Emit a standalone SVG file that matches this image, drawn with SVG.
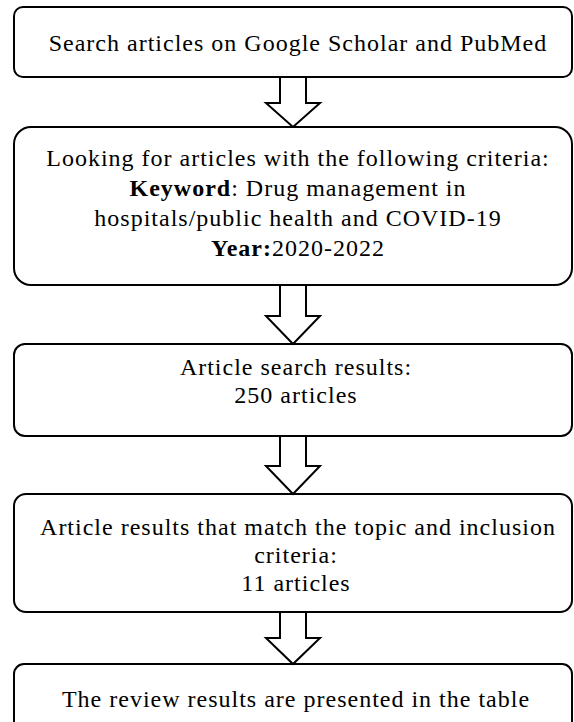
<svg xmlns="http://www.w3.org/2000/svg" width="574" height="722" viewBox="0 0 574 722">
  <style>
    .box { fill: #ffffff; stroke: #000000; stroke-width: 2; }
    .arrow { fill: #ffffff; stroke: #000000; stroke-width: 2; stroke-linejoin: miter; }
    .t { font-family: "Liberation Serif", "Times New Roman", serif; font-size: 24px; fill: #000000; text-anchor: middle; letter-spacing: 1px; }
    .b { font-weight: bold; }
  </style>
  <rect width="574" height="722" fill="#ffffff"/>

  <g id="node-search">
    <rect class="box" x="14" y="7" width="558" height="70" rx="9" ry="9"/>
    <text class="t" x="298" y="51">Search articles on Google Scholar and PubMed</text>
  </g>

  <g id="node-criteria">
    <rect class="box" x="14" y="127" width="558" height="158" rx="17" ry="17"/>
    <text class="t" x="298" y="166">Looking for articles with the following criteria:</text>
    <text class="t" x="298" y="196"><tspan class="b">Keyword</tspan>: Drug management in</text>
    <text class="t" x="298" y="226">hospitals/public health and COVID-19</text>
    <text class="t" x="298" y="256"><tspan class="b">Year:</tspan>2020-2022</text>
  </g>

  <g id="node-results">
    <rect class="box" x="14" y="344" width="558" height="92" rx="11" ry="11"/>
    <text class="t" x="296" y="375">Article search results:</text>
    <text class="t" x="296" y="403">250 articles</text>
  </g>

  <g id="node-match">
    <rect class="box" x="14" y="494" width="558" height="118" rx="12" ry="12"/>
    <text class="t" x="298" y="535">Article results that match the topic and inclusion</text>
    <text class="t" x="296" y="563">criteria:</text>
    <text class="t" x="296" y="591">11 articles</text>
  </g>

  <g id="node-table">
    <rect class="box" x="14" y="664" width="558" height="80" rx="10" ry="10"/>
    <text class="t" x="296" y="707">The review results are presented in the table</text>
  </g>

  <g id="connectors">
    <polygon class="arrow" points="280,77 306,77 306,103 320,103 293,127 266,103 280,103"/>
    <polygon class="arrow" points="280,285 306,285 306,316 320,316 293,344 266,316 280,316"/>
    <polygon class="arrow" points="280,436 306,436 306,466 320,466 293,494 266,466 280,466"/>
    <polygon class="arrow" points="280,612 306,612 306,638 320,638 293,664 266,638 280,638"/>
  </g>
</svg>
